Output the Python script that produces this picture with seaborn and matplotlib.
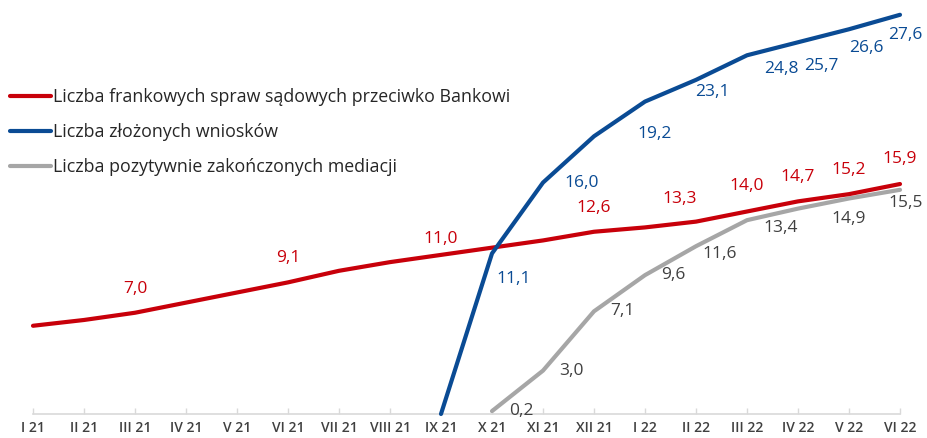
import numpy as np
import pandas as pd
import matplotlib.pyplot as plt
from matplotlib.lines import Line2D
import seaborn as sns

months = ["I 21", "II 21", "III 21", "IV 21", "V 21", "VI 21", "VII 21", "VIII 21", "IX 21",
          "X 21", "XI 21", "XII 21", "I 22", "II 22", "III 22", "IV 22", "V 22", "VI 22"]

# thousands of cases
sprawy = [6.1, 6.5, 7.0, 7.7, 8.4, 9.1, 9.9, 10.5, 11.0, 11.5, 12.0, 12.6, 12.9, 13.3, 14.0, 14.7, 15.2, 15.9]
wnioski = [np.nan] * 8 + [0.0, 11.1, 16.0, 19.2, 21.6, 23.1, 24.8, 25.7, 26.6, 27.6]
mediacje = [np.nan] * 9 + [0.2, 3.0, 7.1, 9.6, 11.6, 13.4, 14.2, 14.9, 15.5]

names = ["Liczba frankowych spraw sądowych przeciwko Bankowi",
         "Liczba złożonych wniosków",
         "Liczba pozytywnie zakończonych mediacji"]
colors = ["#C8000A", "#0A4B94", "#A6A6A6"]
label_colors = ["#C8000A", "#0A4B94", "#404040"]

# which points carry a data label
sprawy_lab = [2, 5, 8, 11, 13, 14, 15, 16, 17]
wnioski_lab = [9, 10, 11, 13, 14, 15, 16, 17]
mediacje_lab = [9, 10, 11, 12, 13, 14, 16, 17]

# label offsets in pixels (dx, dy)
sprawy_off = [(0, 24), (0, 24), (0, 16), (0, 24), (-16, 23), (0, 25), (0, 24), (0, 24), (0, 25)]
wnioski_off = [(22, -26), (39, 0), (61, 2), (16, -12), (34, -14), (23, -24), (17, -19), (5, -20)]
mediacje_off = [(29, 0), (28, 0), (28, 0), (28, 0), (24, -8), (34, -8), (0, -21), (6, -13)]

df = pd.DataFrame({
    "x": list(range(len(months))) * 3,
    "value": sprawy + wnioski + mediacje,
    "series": [names[0]] * len(months) + [names[1]] * len(months) + [names[2]] * len(months),
}).dropna()

sns.set_theme(style="white")
plt.rcParams["font.family"] = ["Open Sans", "DejaVu Sans"]

fig = plt.figure(figsize=(9.27, 4.38), dpi=100)
ax = fig.add_axes([33 / 927, 24 / 438, 867 / 927, 405 / 438])

sns.lineplot(data=df, x="x", y="value", hue="series", hue_order=names,
             palette=colors, linewidth=3.0, legend=False, ax=ax, sort=False)

for ln, z in zip(ax.get_lines(), [3, 4, 2]):
    ln.set_solid_capstyle("round")
    ln.set_solid_joinstyle("round")
    ln.set_clip_on(False)
    ln.set_zorder(z)

def fmt(v):
    return f"{v:.1f}".replace(".", ",")

for vals, idx, offs, col in [(sprawy, sprawy_lab, sprawy_off, label_colors[0]),
                             (wnioski, wnioski_lab, wnioski_off, label_colors[1]),
                             (mediacje, mediacje_lab, mediacje_off, label_colors[2])]:
    for i, (dx, dy) in zip(idx, offs):
        ax.annotate(fmt(vals[i]), (i, vals[i]), xytext=(dx, dy), textcoords="offset pixels",
                    ha="center", va="center", fontsize=12.5, color=col, annotation_clip=False)

ax.set_xlim(0, len(months) - 1)
ax.set_ylim(0, 28)
ax.set_xticks(range(len(months)))
ax.set_xticklabels(months, fontsize=10, fontweight="semibold", color="#404040")
ax.set_yticks([])
ax.set_xlabel("")
ax.set_ylabel("")
for s in ["top", "right", "left"]:
    ax.spines[s].set_visible(False)
ax.spines["bottom"].set_color("#D9D9D9")
ax.spines["bottom"].set_linewidth(1.2)
ax.tick_params(axis="x", direction="in", length=4, width=1, color="#D9D9D9", pad=5, bottom=True)

handles = [Line2D([0], [0], color=c, lw=3.0, solid_capstyle="round") for c in colors]
fig.legend(handles, names, loc="upper left", bbox_to_anchor=(10 / 927, 1 - 88 / 438),
           frameon=False, fontsize=12.8, handlelength=2.3, handletextpad=0.1,
           labelspacing=0.97, borderpad=0, borderaxespad=0, labelcolor="#262626")

fig.savefig("out.png", dpi=100)
